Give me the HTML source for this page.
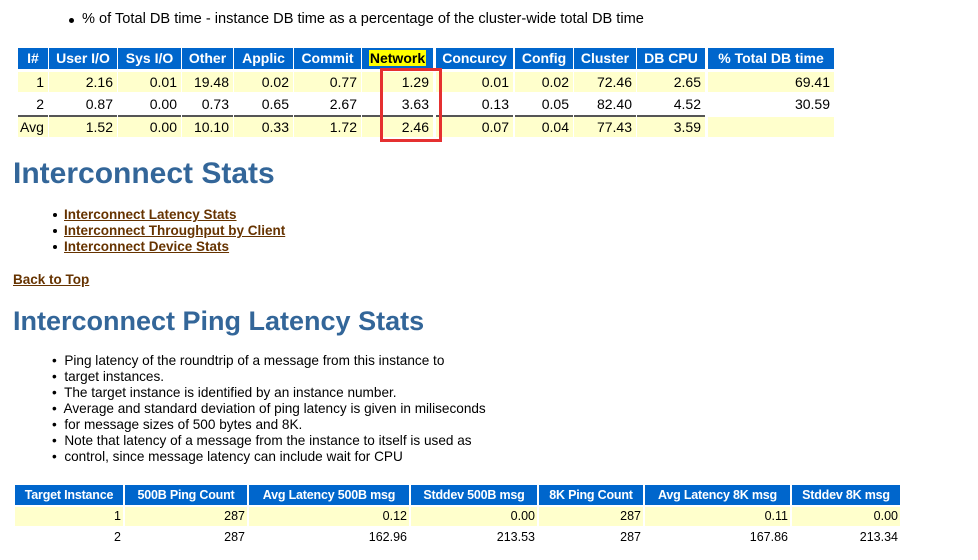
<!DOCTYPE html>
<html><head><meta charset="utf-8"><style>
body{margin:0;width:978px;height:560px;background:#fff;font-family:"Liberation Sans",Arial,sans-serif;position:relative;overflow:hidden;color:#000}
.a{position:absolute;white-space:nowrap}
.h{position:absolute;background:#0066cc;color:#fff;font-weight:bold;font-size:14px;text-align:center;line-height:21px;height:21px}
.c{position:absolute;font-size:14px;text-align:right;line-height:20px;height:20px;padding-right:4px;box-sizing:border-box}
.y{background:#ffffcc}
.h2{position:absolute;background:#0066cc;color:#fff;font-weight:bold;font-size:12.5px;text-align:center;line-height:20px;height:20px;letter-spacing:-0.2px}
.c2{position:absolute;font-size:12.5px;text-align:right;line-height:19px;height:19px;padding-right:2px;box-sizing:border-box}
.ttl{color:#336699;font-weight:bold}
.lnk{color:#663300;font-weight:bold;text-decoration:underline;font-size:13.5px}
.dot{position:absolute;width:4px;height:4px;border-radius:50%;background:#000}
.sep{position:absolute;height:2px;background:#555}
</style></head><body>
<div class="dot" style="left:69px;top:18px;width:5px;height:5px"></div>
<div class="a" style="left:82px;top:11px;font-size:14.6px">% of Total DB time - instance DB time as a percentage of the cluster-wide total DB time</div>

<div class="h" style="left:18px;top:48px;width:30px">I#</div>
<div class="h" style="left:49px;top:48px;width:68px">User I/O</div>
<div class="h" style="left:118px;top:48px;width:63px">Sys I/O</div>
<div class="h" style="left:182px;top:48px;width:51px">Other</div>
<div class="h" style="left:234px;top:48px;width:59px">Applic</div>
<div class="h" style="left:294px;top:48px;width:67px">Commit</div>
<div class="h" style="left:362px;top:48px;width:71px"><span style="background:#ffff00;color:#000;padding:0 1px">Network</span></div>
<div class="h" style="left:436px;top:48px;width:77px">Concurcy</div>
<div class="h" style="left:515px;top:48px;width:58px">Config</div>
<div class="h" style="left:574px;top:48px;width:62px">Cluster</div>
<div class="h" style="left:637px;top:48px;width:68px">DB CPU</div>
<div class="h" style="left:708px;top:48px;width:126px">% Total DB time</div>

<div id="rows"></div>
<script>
var cols=[[18,30],[49,68],[118,63],[182,51],[234,59],[294,67],[362,71],[436,77],[515,58],[574,62],[637,68],[708,126]];
var data=[["1","2.16","0.01","19.48","0.02","0.77","1.29","0.01","0.02","72.46","2.65","69.41"],
["2","0.87","0.00","0.73","0.65","2.67","3.63","0.13","0.05","82.40","4.52","30.59"],
["Avg","1.52","0.00","10.10","0.33","1.72","2.46","0.07","0.04","77.43","3.59",""]];
var tops=[72,94,117];var h="";
for(var r=0;r<3;r++)for(var i=0;i<12;i++){var cls="c"+(r!=1?" y":"");var st="left:"+cols[i][0]+"px;top:"+tops[r]+"px;width:"+cols[i][1]+"px";if(r==2&&i==0)st+=";text-align:left;padding-left:2px";h+='<div class="'+cls+'" style="'+st+'">'+data[r][i]+'</div>';}
for(var i=0;i<11;i++)h+='<div class="sep" style="left:'+cols[i][0]+'px;top:115px;width:'+cols[i][1]+'px"></div>';
var c2=[[15,108],[125,122],[249,160],[411,126],[539,104],[645,145],[792,108]];
var d2=[["1","287","0.12","0.00","287","0.11","0.00"],["2","287","162.96","213.53","287","167.86","213.34"]];
var t2=[507,528];
for(var r=0;r<2;r++)for(var i=0;i<7;i++)h+='<div class="c2'+(r==0?' y':'')+'" style="left:'+c2[i][0]+'px;top:'+t2[r]+'px;width:'+c2[i][1]+'px">'+d2[r][i]+'</div>';
document.getElementById("rows").innerHTML=h;
</script>
<div class="a" style="left:380px;top:68px;width:56px;height:68px;border:3px solid #e53030"></div>

<div class="a ttl" style="left:13px;top:157px;font-size:30px">Interconnect Stats</div>
<div class="dot" style="left:53px;top:213px"></div>
<div class="dot" style="left:53px;top:229px"></div>
<div class="dot" style="left:53px;top:245px"></div>
<div class="a lnk" style="left:64px;top:207px">Interconnect Latency Stats</div>
<div class="a lnk" style="left:64px;top:223px">Interconnect Throughput by Client</div>
<div class="a lnk" style="left:64px;top:239px">Interconnect Device Stats</div>
<div class="a lnk" style="left:13px;top:272px">Back to Top</div>
<div class="a ttl" style="left:13px;top:306px;font-size:27px">Interconnect Ping Latency Stats</div>

<div class="a" style="left:52px;top:353px;font-size:13.6px;line-height:16px">
<div>•&nbsp; Ping latency of the roundtrip of a message from this instance to</div>
<div>•&nbsp; target instances.</div>
<div>•&nbsp; The target instance is identified by an instance number.</div>
<div>•&nbsp; Average and standard deviation of ping latency is given in miliseconds</div>
<div>•&nbsp; for message sizes of 500 bytes and 8K.</div>
<div>•&nbsp; Note that latency of a message from the instance to itself is used as</div>
<div>•&nbsp; control, since message latency can include wait for CPU</div>
</div>

<div class="h2" style="left:15px;top:485px;width:108px">Target Instance</div>
<div class="h2" style="left:125px;top:485px;width:122px">500B Ping Count</div>
<div class="h2" style="left:249px;top:485px;width:160px">Avg Latency 500B msg</div>
<div class="h2" style="left:411px;top:485px;width:126px">Stddev 500B msg</div>
<div class="h2" style="left:539px;top:485px;width:104px">8K Ping Count</div>
<div class="h2" style="left:645px;top:485px;width:145px">Avg Latency 8K msg</div>
<div class="h2" style="left:792px;top:485px;width:108px">Stddev 8K msg</div>
</body></html>
